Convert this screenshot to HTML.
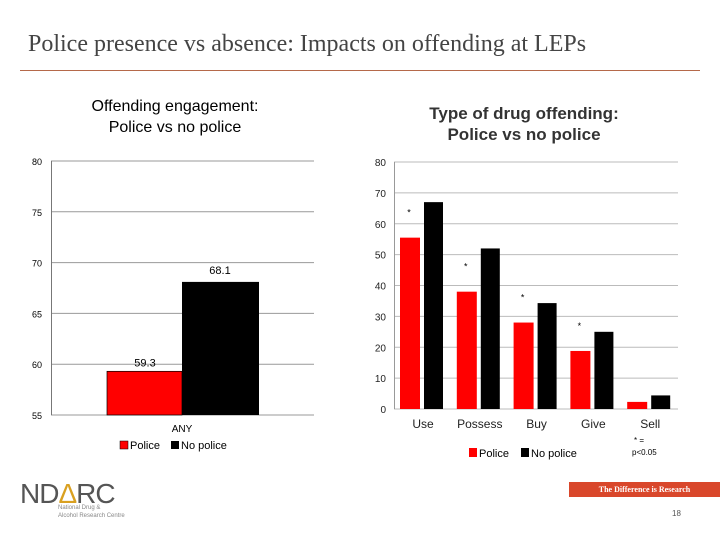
<!DOCTYPE html>
<html><head><meta charset="utf-8"><style>
body{margin:0;width:720px;height:540px;background:#fff;overflow:hidden;position:relative;font-family:"Liberation Sans",sans-serif}
.abs{position:absolute}
</style></head><body>
<div class="abs" style="left:28px;top:31px;font-family:'Liberation Serif',serif;font-size:24px;color:#444;white-space:nowrap">Police presence vs absence: Impacts on offending at LEPs</div>
<div class="abs" style="left:20px;top:70px;width:680px;height:1px;background:#b5694a"></div>
<div class="abs" style="left:55px;top:96px;width:240px;text-align:center;font-size:16px;line-height:21px;color:#000">Offending engagement:<br>Police vs no police</div>
<div class="abs" style="left:404px;top:103px;width:240px;text-align:center;font-size:17px;font-weight:bold;line-height:21px;color:#333">Type of drug offending:<br>Police vs no police</div>
<svg class="abs" style="left:0;top:0" width="720" height="540" id="svg"></svg>
<div class="abs" style="left:20px;top:478px;font-size:28px;color:#555;letter-spacing:-1px;font-weight:normal">ND<span style="color:#d9a020">Δ</span>RC</div>
<div class="abs" style="left:58px;top:504px;font-size:6px;line-height:8px;color:#888">National Drug &amp;<br>Alcohol Research Centre</div>
<div class="abs" style="left:569px;top:482px;width:151px;height:15px;background:#d9472b;color:#fff;font-family:'Liberation Serif',serif;font-size:8px;font-weight:bold;line-height:15px;text-align:center">The Difference is Research</div>
<div class="abs" style="left:672px;top:509px;font-size:8px;color:#555">18</div>
<script>
const NS="http://www.w3.org/2000/svg";
const svg=document.getElementById('svg');
function mk(t,a,txt){const e=document.createElementNS(NS,t);for(const k in a)e.setAttribute(k,a[k]);if(txt!==undefined)e.textContent=txt;svg.appendChild(e);return e;}

// Left chart data
const leftCats=["ANY"];
const leftPolice=[59.3];
const leftNoPolice=[68.1];
const leftTicks=[55,60,65,70,75,80];
// Right chart data
const rightCats=["Use","Possess","Buy","Give","Sell"];
const rightPolice=[55.5,38,28,18.8,2.3];
const rightNoPolice=[67,52,34.3,25,4.4];
const rightTicks=[0,10,20,30,40,50,60,70,80];
const rightSig=[true,true,true,true,false];

// Left chart
const ly=v=>415-(v-55)/(80-55)*254;
leftTicks.forEach(t=>{
  const l=mk('line',{x1:51,x2:314,y1:ly(t),y2:ly(t),stroke:'#999','stroke-width':1});
  
  const tx=mk('text',{x:42,y:ly(t)+4,'text-anchor':'end','font-size':9,fill:'#000'},t);
  
});
mk('line',{x1:51.5,x2:51.5,y1:161,y2:415,stroke:'#777'});
leftCats.forEach((c,i)=>{
  const cx=182;
  const r=mk('rect',{x:cx-75,y:ly(leftPolice[i]),width:75,height:415-ly(leftPolice[i]),fill:'#f00',stroke:'#000','stroke-width':0.7});
  
  const b=mk('rect',{x:cx,y:ly(leftNoPolice[i]),width:77,height:415-ly(leftNoPolice[i]),fill:'#000'});
  
  const v1=mk('text',{x:cx-37,y:ly(leftPolice[i])-5,'text-anchor':'middle','font-size':11},leftPolice[i]);
  
  const v2=mk('text',{x:cx+38,y:ly(leftNoPolice[i])-8,'text-anchor':'middle','font-size':11},leftNoPolice[i]);
  
  const cl=mk('text',{x:cx,y:432,'text-anchor':'middle','font-size':10},c);
  
});
mk('rect',{x:120,y:441,width:8,height:8,fill:'#f00',stroke:'#000','stroke-width':0.5});
mk('text',{x:130,y:449,'font-size':11},'Police');
mk('rect',{x:171,y:441,width:8,height:8,fill:'#000'});
mk('text',{x:181,y:449,'font-size':11},'No police');

// Right chart
const ry=v=>409-v/80*247;
rightTicks.forEach(t=>{
  const l=mk('line',{x1:394,x2:678,y1:ry(t),y2:ry(t),stroke:'#bbb','stroke-width':1});
  
  const tx=mk('text',{x:386,y:ry(t)+4,'text-anchor':'end','font-size':10,fill:'#222'},t);
  
});
mk('line',{x1:394.5,x2:394.5,y1:162,y2:409,stroke:'#999'});
rightCats.forEach((c,i)=>{
  const cx=422+i*56.8;
  const r=mk('rect',{x:cx-22,y:ry(rightPolice[i]),width:20,height:409-ry(rightPolice[i]),fill:'#f00'});
  
  const b=mk('rect',{x:cx+2,y:ry(rightNoPolice[i]),width:19,height:409-ry(rightNoPolice[i]),fill:'#000'});
  
  const cl=mk('text',{x:cx+1,y:428,'text-anchor':'middle','font-size':12,fill:'#222'},c);
  
  if(rightSig[i]){
    const s=mk('text',{x:cx-13,y:ry(rightPolice[i])-22,'text-anchor':'middle','font-size':9},'*');
    
  }
});
mk('text',{x:634,y:443,'font-size':8},'* =');
mk('text',{x:632,y:455,'font-size':8},'p<0.05');
mk('rect',{x:469,y:448,width:8,height:9,fill:'#f00'});
mk('text',{x:479,y:457,'font-size':11},'Police');
mk('rect',{x:521,y:448,width:8,height:9,fill:'#000'});
mk('text',{x:531,y:457,'font-size':11},'No police');
</script>
</body></html>
